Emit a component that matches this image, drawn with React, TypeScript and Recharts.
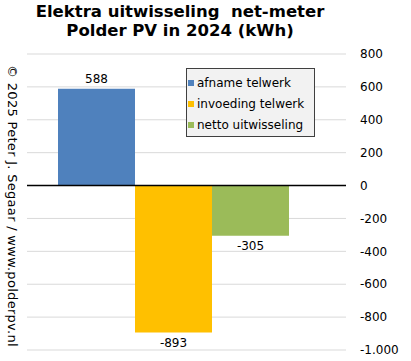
import { BarChart, Bar, XAxis, YAxis, CartesianGrid, ReferenceLine, LabelList } from 'recharts';

const categories = ['2024'];
const seriesNames = ['afname telwerk', 'invoeding telwerk', 'netto uitwisseling'];
const afname = [588];
const invoeding = [-893];
const netto = [-305];
const yTicks = [-1000, -800, -600, -400, -200, 0, 200, 400, 600, 800];

const COLORS = ['#4F81BD', '#FFC000', '#9BBB59'];
const FONT = '"DejaVu Sans", Verdana, sans-serif';

const data = categories.map((c, i) => ({
  name: c,
  afname: afname[i],
  invoeding: invoeding[i],
  netto: netto[i],
}));

const fmt = (v: number) => {
  const s = Math.abs(v).toString().replace(/\B(?=(\d{3})+(?!\d))/g, '.');
  return v < 0 ? '-' + s : s;
};

function LegendBox() {
  return (
    <div
      style={{
        position: 'absolute',
        left: 186,
        top: 68,
        width: 129,
        height: 69,
        background: '#F2F2F2',
        border: '1px solid #404040',
        padding: '3px 0 0 1px',
        fontFamily: FONT,
        fontSize: 12,
        color: '#000',
        boxSizing: 'border-box',
        whiteSpace: 'nowrap',
      }}
    >
      {seriesNames.map((n, i) => (
        <div key={n} style={{ display: 'flex', alignItems: 'center', height: 21 }}>
          <span style={{ width: 6, height: 6, background: COLORS[i], marginRight: 3, display: 'inline-block' }} />
          <span>{n}</span>
        </div>
      ))}
    </div>
  );
}

export default function App() {
  return (
    <div style={{ position: 'absolute', left: 0, top: 0, width: 411, height: 361, background: '#fff' }}>
      <BarChart
        width={411}
        height={361}
        data={data}
        margin={{ top: 54, right: 15, bottom: 11, left: 27 }}
        barGap={0}
        barCategoryGap={31}
        style={{ fontFamily: FONT }}
      >
        <CartesianGrid vertical={false} stroke="#D9D9D9" />
        <XAxis dataKey="name" hide padding={{ left: 0, right: 27 }} />
        <YAxis
          orientation="right"
          width={50}
          domain={[-1000, 800]}
          ticks={yTicks}
          tickFormatter={fmt}
          axisLine={false}
          tickLine={false}
          tick={{ fill: '#000', fontSize: 12 }}
          tickMargin={8}
          interval={0}
        />
        <ReferenceLine y={0} stroke="#000" strokeWidth={1.5} />
        <Bar dataKey="afname" name={seriesNames[0]} fill={COLORS[0]} isAnimationActive={false}>
          <LabelList dataKey="afname" position="top" offset={6} fill="#000" fontSize={12} formatter={(v: any) => fmt(Number(v))} />
        </Bar>
        <Bar dataKey="invoeding" name={seriesNames[1]} fill={COLORS[1]} isAnimationActive={false}>
          <LabelList dataKey="invoeding" position="top" offset={6} fill="#000" fontSize={12} formatter={(v: any) => fmt(Number(v))} />
        </Bar>
        <Bar dataKey="netto" name={seriesNames[2]} fill={COLORS[2]} isAnimationActive={false}>
          <LabelList dataKey="netto" position="top" offset={6} fill="#000" fontSize={12} formatter={(v: any) => fmt(Number(v))} />
        </Bar>
      </BarChart>
      <div
        style={{
          position: 'absolute',
          left: 0,
          top: 2,
          width: 360,
          textAlign: 'center',
          fontFamily: FONT,
          fontWeight: 'bold',
          fontSize: 16.5,
          lineHeight: '19px',
          color: '#000',
        }}
      >
        Elektra uitwisseling&nbsp; net-meter
        <br />
        Polder PV in 2024 (kWh)
      </div>
      <div
        style={{
          position: 'absolute',
          left: 12,
          top: 206,
          transform: 'translate(-50%, -50%) rotate(90deg)',
          whiteSpace: 'nowrap',
          fontFamily: FONT,
          fontSize: 13,
          letterSpacing: 0.3,
          color: '#000',
        }}
      >
        © 2025 Peter J. Segaar / www.polderpv.nl
      </div>
      <LegendBox />
    </div>
  );
}
